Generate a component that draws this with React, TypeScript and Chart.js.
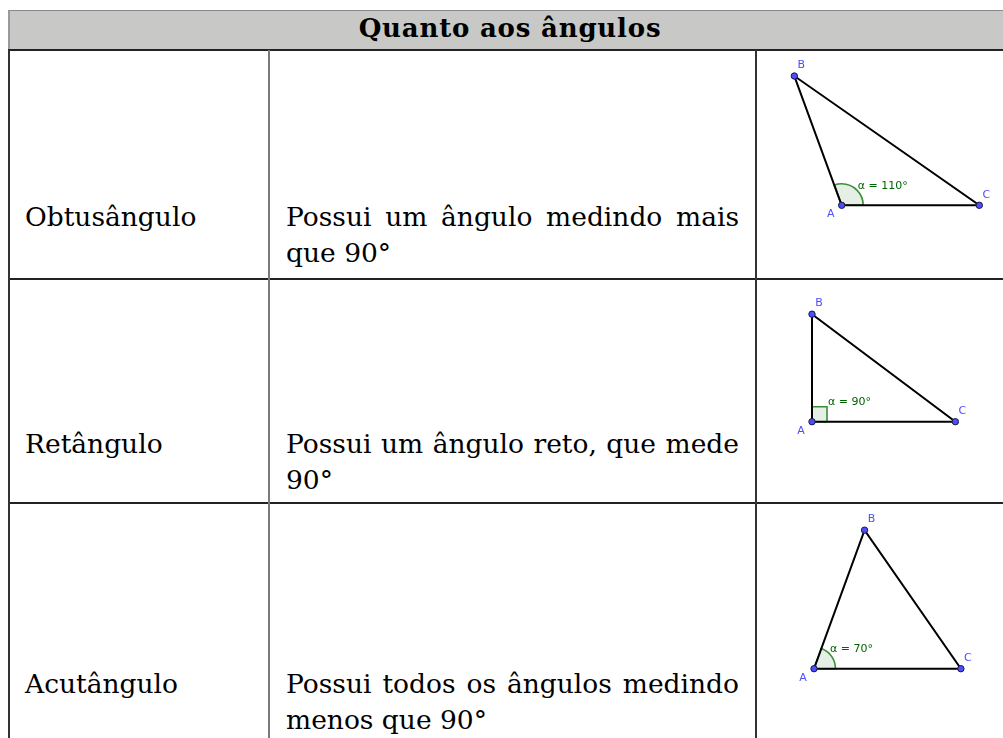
import React, { useEffect, useRef } from "react";
import { Chart, registerables } from "chart.js";

Chart.register(...registerables);

// ---------- data ----------
const title = "Quanto aos ângulos";
const categories = ["Obtusângulo", "Retângulo", "Acutângulo"];
const descFirstLines = [
  "Possui um ângulo medindo mais",
  "Possui um ângulo reto, que mede",
  "Possui todos os ângulos medindo",
];
const descSecondLines = ["que 90°", "90°", "menos que 90°"];
const vertexLabels = ["A", "B", "C"];
const angleValues = [110, 90, 70];
// triangle vertices A, B, C (geometry units)
const obtuseX = [0, -1.48, 4.3];
const obtuseY = [0, 4.04, 0];
const rightX = [0, 0, 4.48];
const rightY = [0, 3.36, 0];
const acuteX = [0, 1.58, 4.59];
const acuteY = [0, 4.33, 0];

const triXs = [obtuseX, rightX, acuteX];
const triYs = [obtuseY, rightY, acuteY];

// ---------- layout / style ----------
const PX_PER_UNIT = 32;
const ROWS = [
  { top: 50, bottom: 279, baseline: 226 },
  { top: 279, bottom: 503, baseline: 453 },
  { top: 503, bottom: 760, baseline: 693 },
];
const FIG_ORIGINS = [
  { x: 841.7, y: 205.3 },
  { x: 812, y: 421.7 },
  { x: 814, y: 668.7 },
];
const FIG_LEFT = 757;
const FIG_RIGHT = 1003;
const VIEW_H = 738;
const SERIF = '"DejaVu Serif", serif';
const FONT_SIZE = 26.5;
const LINE_H = 36;
const ASCENT_OFF = 27.2;
const POINT_COLOR = "#4d4dff";
const ANGLE_TEXT = "#006400";

type Props = { idx: number };

function TriangleChart({ idx }: Props) {
  const ref = useRef<HTMLCanvasElement | null>(null);
  const row = ROWS[idx];
  const top = row.top + 1;
  const bottom = Math.min(row.bottom - 1, VIEW_H);
  const width = FIG_RIGHT - FIG_LEFT;
  const height = bottom - top;

  useEffect(() => {
    const canvas = ref.current;
    if (!canvas) return;
    const xs = triXs[idx];
    const ys = triYs[idx];
    const origin = FIG_ORIGINS[idx];
    const xmin = (FIG_LEFT - origin.x) / PX_PER_UNIT;
    const xmax = (FIG_RIGHT - origin.x) / PX_PER_UNIT;
    const ymax = (origin.y - top) / PX_PER_UNIT;
    const ymin = -(bottom - origin.y) / PX_PER_UNIT;
    const pts = xs.map((x, i) => ({ x, y: ys[i] }));
    const closed = [...pts, pts[0]];
    const angle = angleValues[idx];

    const decor = {
      id: "triangleDecor",
      beforeDatasetsDraw(chart: any) {
        const { ctx, scales } = chart;
        const sx = scales.x, sy = scales.y;
        const ax = sx.getPixelForValue(xs[0]), ay = sy.getPixelForValue(ys[0]);
        const bx = sx.getPixelForValue(xs[1]), by = sy.getPixelForValue(ys[1]);
        const cx = sx.getPixelForValue(xs[2]), cy = sy.getPixelForValue(ys[2]);
        ctx.save();
        ctx.fillStyle = "rgba(0,100,0,0.1)";
        ctx.strokeStyle = "#3a8f3a";
        ctx.lineWidth = 1.6;
        if (angle === 90) {
          const s = 15;
          const lc = Math.hypot(cx - ax, cy - ay);
          const lb = Math.hypot(bx - ax, by - ay);
          const ux = (cx - ax) / lc, uy = (cy - ay) / lc;
          const vx = (bx - ax) / lb, vy = (by - ay) / lb;
          ctx.beginPath();
          ctx.moveTo(ax, ay);
          ctx.lineTo(ax + s * ux, ay + s * uy);
          ctx.lineTo(ax + s * ux + s * vx, ay + s * uy + s * vy);
          ctx.lineTo(ax + s * vx, ay + s * vy);
          ctx.closePath();
          ctx.fill();
          ctx.stroke();
        } else {
          const r = 21.5;
          const aC = Math.atan2(cy - ay, cx - ax);
          const aB = Math.atan2(by - ay, bx - ax);
          ctx.beginPath();
          ctx.moveTo(ax, ay);
          ctx.arc(ax, ay, r, aC, aB, true);
          ctx.closePath();
          ctx.fill();
          ctx.stroke();
        }
        ctx.restore();
      },
      afterDatasetsDraw(chart: any) {
        const { ctx, scales } = chart;
        const sx = scales.x, sy = scales.y;
        const offs = [
          { dx: -11, dy: 9 },
          { dx: 7, dy: -11 },
          { dx: 7, dy: -10.5 },
        ];
        ctx.save();
        ctx.font = '11px "DejaVu Sans", sans-serif';
        ctx.fillStyle = POINT_COLOR;
        ctx.textAlign = "center";
        ctx.textBaseline = "middle";
        xs.forEach((x, i) => {
          const px = sx.getPixelForValue(x);
          const py = sy.getPixelForValue(ys[i]);
          ctx.fillText(vertexLabels[i], px + offs[i].dx, py + offs[i].dy);
        });
        const ax = sx.getPixelForValue(xs[0]);
        const ay = sy.getPixelForValue(ys[0]);
        ctx.fillStyle = ANGLE_TEXT;
        ctx.textAlign = "left";
        ctx.textBaseline = "alphabetic";
        ctx.fillText(`α = ${angle}°`, ax + 16, ay - 16.5);
        ctx.restore();
      },
    };

    const chart = new Chart(canvas, {
      type: "scatter",
      data: {
        datasets: [
          {
            data: pts,
            order: 0,
            pointRadius: 3.2,
            pointBackgroundColor: POINT_COLOR,
            pointBorderColor: "#1a1a40",
            pointBorderWidth: 1,
            showLine: false,
          },
          {
            data: closed,
            order: 1,
            showLine: true,
            borderColor: "#000000",
            borderWidth: 2,
            pointRadius: 0,
            fill: false,
          },
        ] as any,
      },
      options: {
        animation: false,
        responsive: false,
        maintainAspectRatio: false,
        devicePixelRatio: 1,
        layout: { padding: 0, autoPadding: false },
        events: [],
        scales: {
          x: { type: "linear", min: xmin, max: xmax, display: false },
          y: { type: "linear", min: ymin, max: ymax, display: false },
        },
        plugins: {
          legend: { display: false },
          tooltip: { enabled: false },
        },
      } as any,
      plugins: [decor],
    });
    return () => chart.destroy();
  }, [idx]);

  return (
    <canvas
      ref={ref}
      width={width}
      height={height}
      style={{ position: "absolute", left: FIG_LEFT, top, width, height }}
    />
  );
}

const textBase: React.CSSProperties = {
  position: "absolute",
  fontFamily: SERIF,
  fontSize: FONT_SIZE,
  lineHeight: `${LINE_H}px`,
  color: "#000",
  whiteSpace: "nowrap",
};

export default function App() {
  const hLine = (t: number): React.CSSProperties => ({
    position: "absolute",
    left: 8,
    top: t,
    width: 1010,
    height: 2,
    background: "#222",
  });
  const vLine = (l: number, c: string): React.CSSProperties => ({
    position: "absolute",
    left: l,
    top: 50,
    width: 2,
    height: 700,
    background: c,
  });
  return (
    <div
      style={{
        position: "fixed",
        left: 0,
        top: 0,
        width: 1003,
        height: 738,
        overflow: "hidden",
        background: "#fff",
      }}
    >
      {/* header */}
      <div
        style={{
          position: "absolute",
          left: 8,
          top: 10,
          width: 1010,
          height: 40,
          background: "#c8c9c6",
          borderTop: "1px solid #8a8a8a",
          borderLeft: "2px solid #9a9a9a",
          boxSizing: "border-box",
        }}
      />
      <div
        style={{
          position: "absolute",
          left: 8,
          top: 8,
          width: 1004,
          textAlign: "center",
          fontFamily: SERIF,
          fontWeight: "bold",
          fontSize: 26,
          letterSpacing: 0.8,
          lineHeight: "40px",
          color: "#000",
          whiteSpace: "nowrap",
        }}
      >
        {title}
      </div>

      {/* grid lines */}
      <div style={hLine(49)} />
      <div style={hLine(278)} />
      <div style={hLine(502)} />
      <div style={vLine(8, "#333")} />
      <div style={vLine(268, "#7a7a7a")} />
      <div style={vLine(755, "#333")} />

      {/* rows */}
      {categories.map((cat, i) => {
        const t = ROWS[i].baseline - ASCENT_OFF;
        return (
          <React.Fragment key={cat}>
            <div style={{ ...textBase, left: 25, top: t }}>{cat}</div>
            <div
              style={{
                ...textBase,
                whiteSpace: "normal",
                left: 286,
                top: t,
                width: 453,
                textAlign: "justify",
                textAlignLast: "justify",
              }}
            >
              {descFirstLines[i]}
            </div>
            <div style={{ ...textBase, left: 286, top: t + LINE_H }}>
              {descSecondLines[i]}
            </div>
          </React.Fragment>
        );
      })}

      {/* figures */}
      {categories.map((c, i) => (
        <TriangleChart key={"fig" + c} idx={i} />
      ))}
    </div>
  );
}
